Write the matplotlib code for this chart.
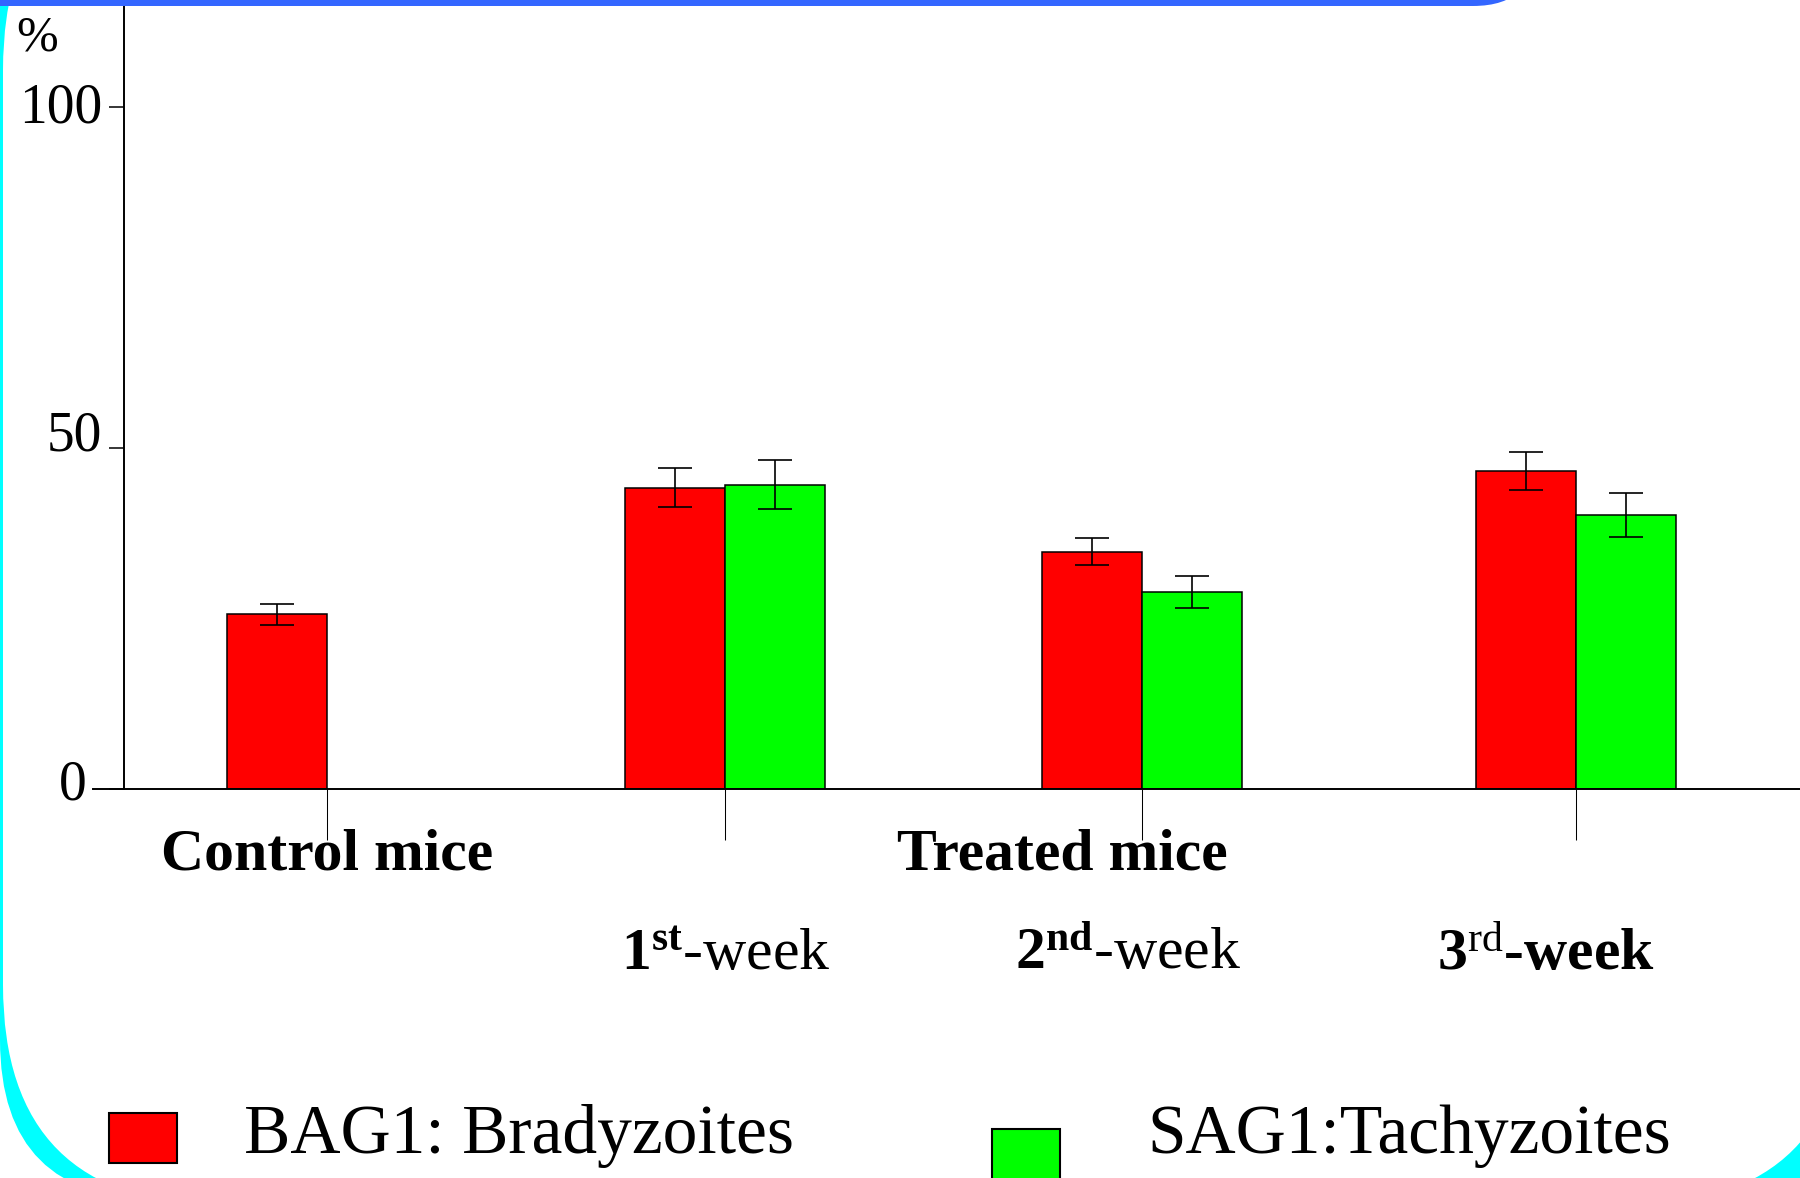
import numpy as np
import matplotlib
matplotlib.use("Agg")
import matplotlib.pyplot as plt
from matplotlib.patches import FancyBboxPatch, Rectangle
from matplotlib import transforms

# data (%)
groups = ["Control mice", "1st-week", "2nd-week", "3rd-week"]
group_x = [2.03, 6.01, 10.18, 14.52]
bag1 = [25.6, 44.2, 34.8, 46.6]
bag1_err = [1.6, 2.8, 2.0, 2.8]
sag1 = [np.nan, 44.6, 28.9, 40.2]
sag1_err = [np.nan, 3.6, 2.3, 3.2]
series = ["BAG1: Bradyzoites", "SAG1:Tachyzoites"]
colors = ["#ff0000", "#00ff00"]
yticks = [0, 50, 100]

week_labels = [r"$\mathbf{1}^{\mathbf{st}}$-week",
               r"$\mathbf{2}^{\mathbf{nd}}$-week",
               r"$\mathbf{3}^{\mathrm{rd}}$-week"]
week_x = [6.02, 10.04, 14.22]
week_weight = ["normal", "normal", "bold"]

plt.rcParams['font.family'] = 'Liberation Serif'
plt.rcParams['mathtext.fontset'] = 'custom'
plt.rcParams['mathtext.rm'] = 'Liberation Serif'
plt.rcParams['mathtext.bf'] = 'Liberation Serif:bold'
plt.rcParams['mathtext.it'] = 'Liberation Serif:italic'

W, H = 1800, 1178
fig = plt.figure(figsize=(W / 100, H / 100), dpi=100)
fig.patch.set_facecolor('white')

# background frame (pixel coords, y down)
bg = fig.add_axes([0, 0, 1, 1], zorder=-1)
bg.set_xlim(0, W)
bg.set_ylim(H, 0)
bg.axis('off')
bg.add_patch(FancyBboxPatch((0, -200), 1900, 1400,
                            boxstyle="round,pad=0,rounding_size=160",
                            fc='#00ffff', ec='none'))
bg.add_patch(FancyBboxPatch((3, -150), 1845, 1355,
                            boxstyle="round,pad=0,rounding_size=220",
                            fc='white', ec='none'))
bar_top = FancyBboxPatch((-100, -100), 1637, 106,
                         boxstyle="round,pad=0,rounding_size=64",
                         fc='#3366ff', ec='none', transform=bg.transData, zorder=5)
fig.add_artist(bar_top)

# main chart
ax = fig.add_axes([93 / W, 1 - 789 / H, 1 - 93 / W, 789 / H])
ax.set_facecolor('none')
ax.set_xlim(-0.31, 16.76)
ax.set_ylim(0, 115.7)

gx = np.array(group_x)
ax.bar(gx - 0.5, bag1, 1.0, color=colors[0], edgecolor='black', linewidth=1.1, zorder=2)
ax.bar(gx + 0.5, sag1, 1.0, color=colors[1], edgecolor='black', linewidth=1.1, zorder=2)
ax.errorbar(gx - 0.5, bag1, yerr=bag1_err, fmt='none', ecolor='black',
            elinewidth=1.2, capsize=12.5, capthick=1.2, zorder=3)
ax.errorbar(gx + 0.5, sag1, yerr=sag1_err, fmt='none', ecolor='black',
            elinewidth=1.2, capsize=12.5, capthick=1.2, zorder=3)

for s in ['top', 'right']:
    ax.spines[s].set_visible(False)
ax.spines['left'].set_position(('data', 0))
ax.spines['left'].set_linewidth(1.4)
ax.spines['bottom'].set_linewidth(1.4)

ax.set_xticks(group_x)
ax.set_xticklabels([])
ax.tick_params(axis='x', length=36.7, width=0.75, direction='out')
ax.set_yticks(yticks)
ax.set_yticklabels([str(v) for v in yticks])
ax.tick_params(axis='y', length=10.8, width=1.1, pad=5, labelsize=40)
ax.yaxis.get_major_ticks()[0].set_pad(16)
# the original labels sit a little above their ticks
for lab, dy in zip(ax.get_yticklabels(), [10, 18, 5]):
    lab.set_transform(lab.get_transform() +
                      transforms.ScaledTranslation(0, dy / 100, fig.dpi_scale_trans))

bg.text(37, 38, "%", fontsize=36, ha='center', va='center')

trans = transforms.blended_transform_factory(ax.transData, bg.transData)
ax.text(group_x[0], 869, groups[0], transform=trans, ha='center', va='baseline',
        fontsize=43, fontweight='bold')
ax.text(9.38, 869, "Treated mice", transform=trans, ha='center', va='baseline',
        fontsize=43, fontweight='bold')
for lab, x, w in zip(week_labels, week_x, week_weight):
    ax.text(x, 970, lab, transform=trans, ha='center', va='baseline',
            fontsize=43, fontweight=w)

# legend
bg.add_patch(Rectangle((109, 1113), 68, 50, fc=colors[0], ec='black', lw=1.5))
bg.text(244, 1153, series[0], fontsize=50, ha='left', va='baseline')
bg.add_patch(Rectangle((992, 1129), 68, 51, fc=colors[1], ec='black', lw=1.5))
bg.text(1147, 1153, series[1], fontsize=50, ha='left', va='baseline')

plt.savefig('out.png', dpi=100)
